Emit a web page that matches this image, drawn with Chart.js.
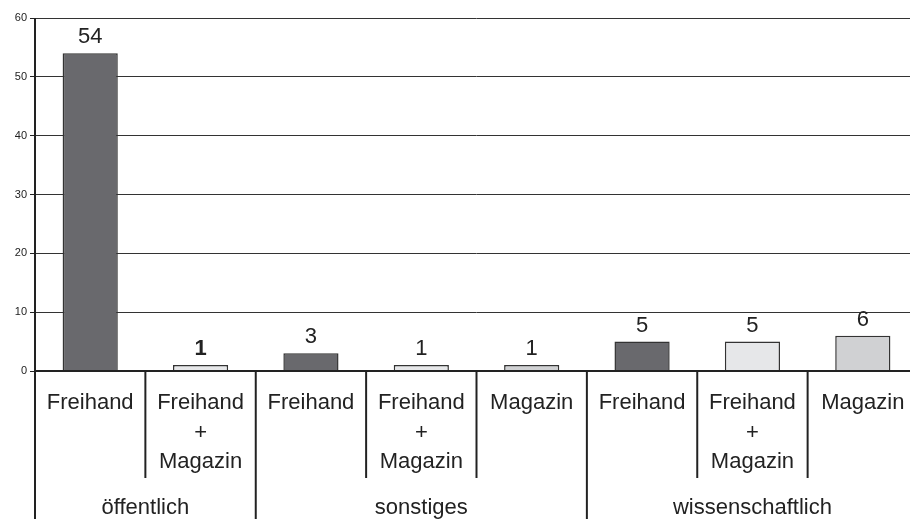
<!DOCTYPE html>
<html>
<head>
<meta charset="utf-8">
<script src="https://cdn.jsdelivr.net/npm/chart.js@4"></script>
<style>
  html, body { margin: 0; padding: 0; background: #fff; overflow: hidden; }
  #wrap { width: 920px; height: 519px; position: relative; }
</style>
</head>
<body>
<div id="wrap"><canvas id="chart"></canvas></div>
<script>
// data
const groups = ['öffentlich', 'sonstiges', 'wissenschaftlich'];
const groupOf = [0, 0, 1, 1, 1, 2, 2, 2];
const categories = [
  ['Freihand'], ['Freihand', '+', 'Magazin'],
  ['Freihand'], ['Freihand', '+', 'Magazin'], ['Magazin'],
  ['Freihand'], ['Freihand', '+', 'Magazin'], ['Magazin']
];
const values = [54, 1, 3, 1, 1, 5, 5, 6];
const yTicks = [0, 10, 20, 30, 40, 50, 60];

const typeColors = {
  'Freihand': '#69696d',
  'Freihand + Magazin': '#e6e7e9',
  'Magazin': '#d0d1d3'
};
const barColors = categories.map(c => typeColors[c.join(' ')]);

const FONT = '"Liberation Sans", Arial, sans-serif';

// category + group labels, dividers, value labels
const annot = {
  id: 'annot',
  afterDatasetsDraw(chart) {
    const c = chart.ctx, a = chart.chartArea;
    const x = chart.scales.x, y = chart.scales.y;
    const y0 = y.getPixelForValue(0);
    c.save();
    c.strokeStyle = '#222';
    c.lineWidth = 2;
    c.beginPath(); c.moveTo(a.left, a.top); c.lineTo(a.left, chart.height); c.stroke();
    c.beginPath(); c.moveTo(a.left, y0); c.lineTo(a.right, y0); c.stroke();

    for (let i = 0; i < categories.length - 1; i++) {
      const bx = (x.getPixelForValue(i) + x.getPixelForValue(i + 1)) / 2;
      const full = groupOf[i] !== groupOf[i + 1];
      c.beginPath();
      c.moveTo(bx, y0);
      c.lineTo(bx, full ? chart.height : y0 + 107);
      c.stroke();
    }

    c.fillStyle = '#222';
    c.textAlign = 'center';
    c.textBaseline = 'middle';
    c.font = '22px ' + FONT;
    categories.forEach((lines, i) => {
      const cx = x.getPixelForValue(i);
      lines.forEach((t, k) => c.fillText(t, cx, y0 + 32 + k * 29.5));
    });
    groups.forEach((g, gi) => {
      const idx = groupOf.map((v, i) => v === gi ? i : -1).filter(i => i >= 0);
      const cx = (x.getPixelForValue(idx[0]) + x.getPixelForValue(idx[idx.length - 1])) / 2;
      c.fillText(g, cx, y0 + 137);
    });

    // value labels
    const meta = chart.getDatasetMeta(0);
    c.textBaseline = 'alphabetic';
    meta.data.forEach((bar, i) => {
      c.font = (i === 1 ? 'bold ' : '') + '22px ' + FONT;
      c.fillText(String(values[i]), bar.x, bar.y - 10);
    });
    c.restore();
  }
};

new Chart(document.getElementById('chart'), {
  type: 'bar',
  data: {
    labels: categories.map(c => c.join(' ')),
    datasets: [{
      data: values,
      backgroundColor: barColors,
      borderColor: '#333',
      borderWidth: 1.5,
      barPercentage: 0.5,
      categoryPercentage: 1
    }]
  },
  options: {
    responsive: true,
    maintainAspectRatio: false,
    animation: false,
    layout: { padding: { top: 18, bottom: 148, right: 2, left: 0 } },
    plugins: { legend: { display: false }, tooltip: { enabled: false } },
    scales: {
      x: { display: false },
      y: {
        min: 0, max: 60,
        afterBuildTicks: s => { s.ticks = yTicks.map(v => ({ value: v })); },
        afterFit: s => { s.width = 35; },
        border: { display: false },
        grid: { color: '#333', lineWidth: 1, tickLength: 5, tickColor: '#222' },
        ticks: { color: '#222', padding: 3, font: { size: 11, family: FONT } }
      }
    }
  },
  plugins: [annot]
});
</script>
</body>
</html>
